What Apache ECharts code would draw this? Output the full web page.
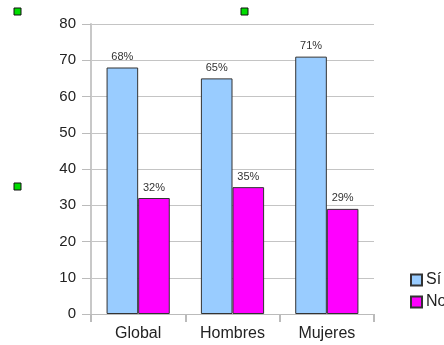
<!DOCTYPE html>
<html>
<head>
<meta charset="utf-8">
<script src="https://cdn.jsdelivr.net/npm/echarts@6/dist/echarts.min.js"></script>
<style>
  html, body { margin: 0; padding: 0; background: #ffffff; }
  #chart { width: 444px; height: 345px; }
</style>
</head>
<body>
<div id="chart"></div>
<script>
// Survey answers by group (percent)
const categories = ['Global', 'Hombres', 'Mujeres'];
const seriesNames = ['Sí', 'No'];
const siValues = [68, 65, 71];
const noValues = [32, 35, 29];
const yTicks = [0, 10, 20, 30, 40, 50, 60, 70, 80];

const chart = echarts.init(document.getElementById('chart'), null, { renderer: 'canvas' });

const labelStyle = {
  show: true,
  position: 'top',
  distance: 5,
  fontFamily: 'Liberation Sans, Arial, sans-serif',
  fontSize: 11,
  color: '#333333',
  formatter: p => p.value + '%'
};

// small green selection handles around the frame
function handle(x, y) {
  return {
    type: 'rect',
    shape: { x: x, y: y, width: 7, height: 7 },
    style: { fill: '#00dd00', stroke: '#111111', lineWidth: 1 }
  };
}

chart.setOption({
  animation: false,
  backgroundColor: '#ffffff',
  textStyle: { fontFamily: 'Liberation Sans, Arial, sans-serif' },
  grid: { left: 91, right: 70, top: 24, bottom: 31 },
  legend: {
    orient: 'vertical',
    left: 405,
    top: 267,
    itemWidth: 11,
    itemHeight: 11,
    itemGap: 6,
    icon: 'rect',
    data: seriesNames,
    textStyle: { fontSize: 16, color: '#222222', padding: [0, 0, 0, -1] }
  },
  xAxis: {
    type: 'category',
    data: categories,
    axisLine: { show: true, lineStyle: { color: '#bbbbbb', width: 1 } },
    axisTick: { show: true, length: 8, lineStyle: { color: '#bbbbbb', width: 2 } },
    axisLabel: { margin: 12, fontSize: 16, color: '#222222' }
  },
  yAxis: {
    type: 'value',
    min: yTicks[0],
    max: yTicks[yTicks.length - 1],
    interval: 10,
    axisLine: { show: true, onZero: false, lineStyle: { color: '#c8c8c8', width: 2 } },
    axisTick: { show: true, length: 9, lineStyle: { color: '#bbbbbb', width: 1 } },
    axisLabel: { margin: 15, fontSize: 15, color: '#222222' },
    splitLine: { show: true, lineStyle: { color: '#c4c4c4', width: 1 } }
  },
  series: [
    {
      name: seriesNames[0],
      type: 'bar',
      data: siValues,
      barGap: '0%',
      barCategoryGap: '33%',
      itemStyle: { color: '#99ccff', borderColor: '#333333', borderWidth: 1 },
      label: labelStyle
    },
    {
      name: seriesNames[1],
      type: 'bar',
      data: noValues,
      itemStyle: { color: '#ff00ff', borderColor: '#333333', borderWidth: 1 },
      label: labelStyle
    }
  ],
  graphic: [handle(14, 8), handle(241, 8), handle(14, 183)]
});
</script>
</body>
</html>
